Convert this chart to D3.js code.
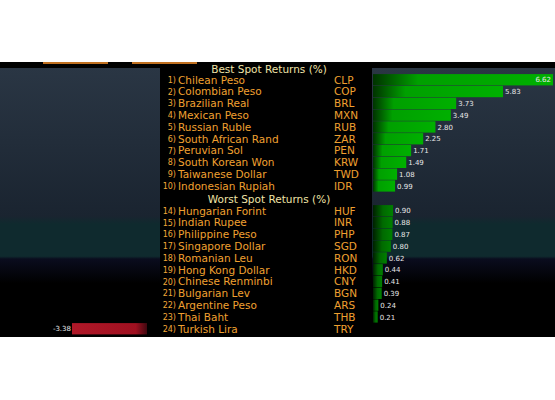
<!DOCTYPE html>
<html><head><meta charset="utf-8">
<script src="https://cdn.jsdelivr.net/npm/d3@7"></script>
<style>body{margin:0;background:#fff}</style>
</head><body><div id="chart"></div>
<script>
const bestNames = ["Chilean Peso","Colombian Peso","Brazilian Real","Mexican Peso","Russian Ruble","South African Rand","Peruvian Sol","South Korean Won","Taiwanese Dollar","Indonesian Rupiah"];
const bestCodes = ["CLP","COP","BRL","MXN","RUB","ZAR","PEN","KRW","TWD","IDR"];
const bestValues = [6.62,5.83,3.73,3.49,2.80,2.25,1.71,1.49,1.08,0.99];
const worstRanks = [14,15,16,17,18,19,20,21,22,23,24];
const worstNames = ["Hungarian Forint","Indian Rupee","Philippine Peso","Singapore Dollar","Romanian Leu","Hong Kong Dollar","Chinese Renminbi","Bulgarian Lev","Argentine Peso","Thai Baht","Turkish Lira"];
const worstCodes = ["HUF","INR","PHP","SGD","RON","HKD","CNY","BGN","ARS","THB","TRY"];
const worstValues = [0.90,0.88,0.87,0.80,0.62,0.44,0.41,0.39,0.24,0.21,-3.38];

const W = 555, H = 400;
const svg = d3.select("#chart").append("svg").attr("width", W).attr("height", H);
const defs = svg.append("defs");

function lg(id, stops, vertical) {
    const g = defs.append("linearGradient").attr("id", id)
        .attr("x1", 0).attr("y1", 0).attr("x2", vertical ? 0 : 1).attr("y2", vertical ? 1 : 0);
    stops.forEach(s => g.append("stop").attr("offset", s[0]).attr("stop-color", s[1]));
}
lg("side", [[0,"#2a3644"],[0.55,"#1a2430"],[0.58,"#0f2a2e"],[0.7,"#0f2a2e"],[0.71,"#0a0c1e"],[0.8,"#000"],[1,"#000"]], true);
lg("gBest", [[0,"#003300"],[0.25,"#00a000"],[1,"#00b000"]]);
lg("gWorst", [[0,"#002000"],[0.5,"#006a00"],[1,"#008000"]]);
lg("gRed", [[0,"#b01828"],[0.85,"#a01020"],[1,"#400810"]]);

const panelTop = 62, panelBottom = 337;
svg.append("rect").attr("x", 0).attr("y", panelTop).attr("width", W).attr("height", panelBottom - panelTop).attr("fill", "#000");
svg.append("rect").attr("x", 0).attr("y", panelTop + 6).attr("width", 160).attr("height", panelBottom - panelTop - 6).attr("fill", "url(#side)");
svg.append("rect").attr("x", 372).attr("y", panelTop + 6).attr("width", W - 372).attr("height", panelBottom - panelTop - 6).attr("fill", "url(#side)");
svg.append("rect").attr("x", 43).attr("y", panelTop).attr("width", 65).attr("height", 2).attr("fill", "#c07020");
svg.append("rect").attr("x", 132).attr("y", panelTop).attr("width", 65).attr("height", 2).attr("fill", "#c07020");

const x = d3.scaleLinear().domain([0, 5.83, 6.62]).range([373, 503, 553]);
const xNeg = d3.scaleLinear().domain([-3.38, 0]).range([72, 147]);

const rowH = 11.8;
const rows = [];
bestNames.forEach((n, i) => rows.push({rank: i + 1, name: n, code: bestCodes[i], v: bestValues[i], y: 80 + i * rowH, best: true}));
worstNames.forEach((n, i) => rows.push({rank: worstRanks[i], name: n, code: worstCodes[i], v: worstValues[i], y: 211 + i * rowH, best: false}));

const font = "DejaVu Sans, sans-serif";
[["Best Spot Returns (%)", 69], ["Worst Spot Returns (%)", 199]].forEach(t =>
    svg.append("text").attr("x", 269).attr("y", t[1]).attr("dy", "0.35em").attr("text-anchor", "middle")
        .attr("fill", "#f0e4a8").style("font-family", font).style("font-size", "10.5px").text(t[0]));

const g = svg.selectAll("g.row").data(rows).join("g").attr("class", "row");
g.filter(d => d.v >= 0).append("rect")
    .attr("x", x(0)).attr("y", d => d.y - rowH / 2).attr("height", rowH - 0.5)
    .attr("width", d => x(d.v) - x(0)).attr("fill", d => d.best ? "url(#gBest)" : "url(#gWorst)");
g.filter(d => d.v < 0).append("rect")
    .attr("x", d => xNeg(d.v)).attr("y", d => d.y - rowH / 2).attr("height", rowH - 0.5)
    .attr("width", d => xNeg(0) - xNeg(d.v)).attr("fill", "url(#gRed)");
g.append("text")
    .attr("x", d => d.v >= 0 ? (d.v === 6.62 ? x(d.v) - 2 : x(d.v) + 2) : xNeg(d.v) - 1)
    .attr("y", d => d.y).attr("dy", "0.35em")
    .attr("text-anchor", d => d.v < 0 || d.v === 6.62 ? "end" : "start")
    .attr("fill", "#e8e8e8").style("font-family", font).style("font-size", "7px")
    .text(d => d.v.toFixed(2));
g.append("text").attr("x", 176).attr("y", d => d.y).attr("dy", "0.35em").attr("text-anchor", "end")
    .attr("fill", "#f0a838").style("font-family", font).style("font-size", "8px").text(d => d.rank + ")");
g.append("text").attr("x", 178).attr("y", d => d.y).attr("dy", "0.35em")
    .attr("fill", "#f0a030").style("font-family", font).style("font-size", "10.5px").text(d => d.name);
g.append("text").attr("x", 334).attr("y", d => d.y).attr("dy", "0.35em")
    .attr("fill", "#f0a030").style("font-family", font).style("font-size", "10.5px").text(d => d.code);
</script></body></html>
